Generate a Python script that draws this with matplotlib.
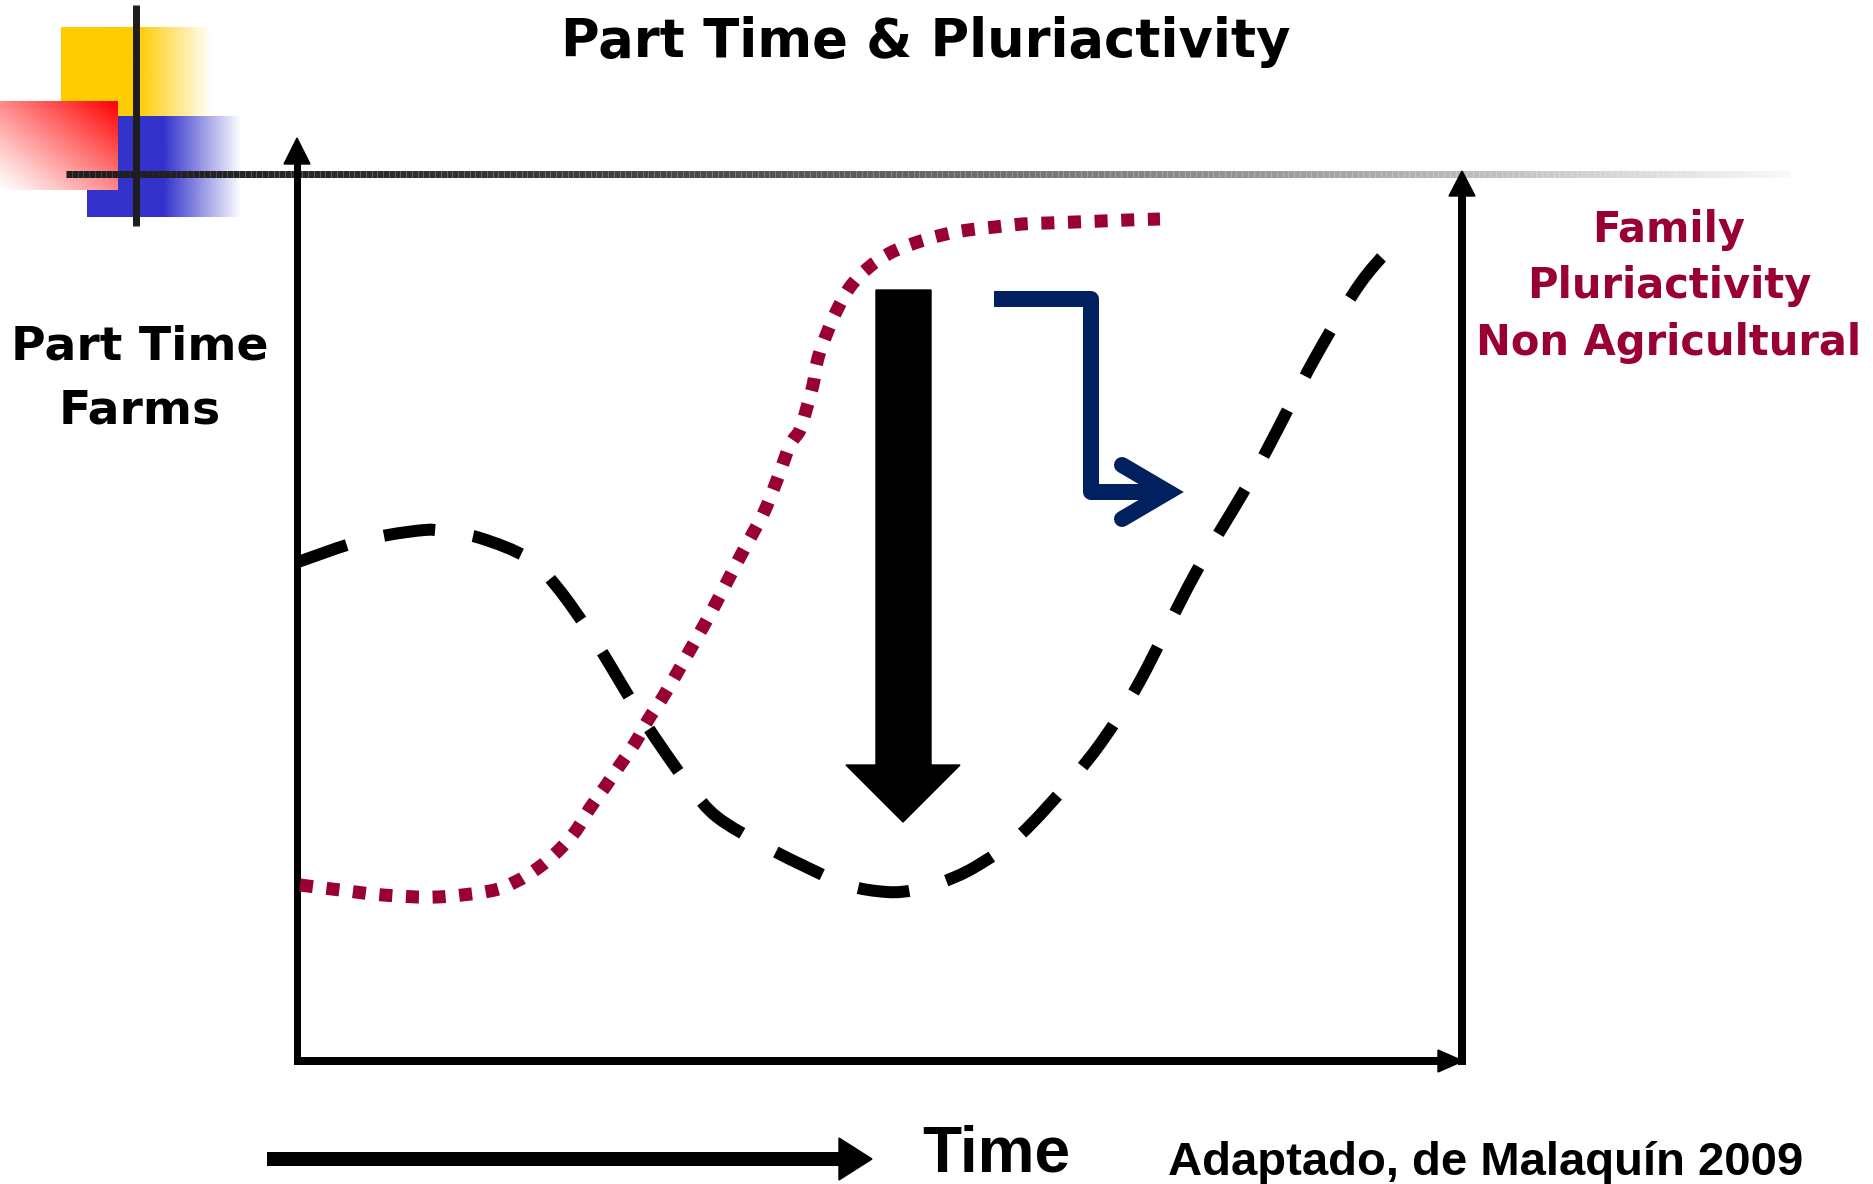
import numpy as np
import matplotlib
matplotlib.use("Agg")
import matplotlib.pyplot as plt
from matplotlib.patches import Polygon, PathPatch
from matplotlib.path import Path
from matplotlib.collections import LineCollection

# ---------------- data (pixel space of the slide, y downward) ----------------
part_time_x = [298, 350, 388, 425, 442, 480, 528, 557, 588, 610, 637, 660, 690, 717,
               763, 800, 847, 887, 915, 940, 975, 1020, 1072, 1105, 1140, 1195,
               1255, 1315, 1362, 1405]
part_time_y = [562, 544, 535, 530, 531, 538, 558, 587, 630, 665, 710, 745, 787, 817,
               845, 864, 885, 892, 890, 883, 867, 835, 779, 737, 681, 574,
               472, 358, 281, 233]

pluri_x = [300, 340, 383, 437, 490, 515, 538, 557, 575, 590, 605, 620, 635, 648, 663,
           677, 690, 703, 715, 728, 741, 753, 765, 777, 790, 800, 807, 813, 818, 827,
           837, 850, 868, 890, 915, 942, 968, 995, 1022, 1048, 1075, 1102, 1128, 1160]
pluri_y = [885, 890, 895, 897, 891, 882, 868, 852, 832, 808, 787, 765, 743, 720, 697,
           673, 650, 627, 605, 580, 555, 533, 510, 480, 445, 430, 407, 385, 358, 333,
           310, 287, 268, 253, 243, 235, 230, 227, 224, 223, 222, 221, 220, 219]

title = "Part Time & Pluriactivity"
ylabel_lines = ["Part Time", "Farms"]
right_lines = ["Family", "Pluriactivity", "Non Agricultural"]
time_label = "Time"
source = "Adaptado, de Malaquín 2009"

PURPLE = "#990033"
NAVY = "#002060"

fig = plt.figure(figsize=(18.74, 11.84), dpi=100)
ax = fig.add_axes([0, 0, 1, 1])
ax.set_xlim(0, 1874)
ax.set_ylim(1184, 0)
ax.axis("off")

PX = 0.72  # px -> pt


def smooth_path(xs, ys):
    """Catmull-Rom curve through the points, expressed as cubic Bezier path."""
    p = np.column_stack([xs, ys]).astype(float)
    verts = [p[0]]
    codes = [Path.MOVETO]
    for i in range(len(p) - 1):
        p0 = p[i - 1] if i > 0 else p[i]
        p1, p2 = p[i], p[i + 1]
        p3 = p[i + 2] if i + 2 < len(p) else p[i + 1]
        c1 = p1 + (p2 - p0) / 6.0
        c2 = p2 - (p3 - p1) / 6.0
        verts += [c1, c2, p2]
        codes += [Path.CURVE4] * 3
    return Path(verts, codes)


# ---------------- logo ----------------
def hgrad(x0, x1, y0, y1, rgb, solid_to, z):
    n = 200
    xs = np.linspace(x0, x1, n)
    alpha = np.clip(1 - (xs - solid_to) / (x1 - solid_to), 0, 1)
    alpha[xs <= solid_to] = 1
    img = np.zeros((2, n, 4))
    img[..., :3] = rgb
    img[..., 3] = alpha
    ax.imshow(img, extent=(x0, x1, y1, y0), origin="upper", aspect="auto",
              zorder=z, interpolation="bilinear")

hgrad(61, 212, 27, 116, (1.0, 0.8, 0.0), 138, 1)
hgrad(87, 242, 116, 217, (0.2, 0.2, 0.8), 164, 2)
# red diagonal gradient (opaque, red -> white)
n = 120
gx, gy = np.meshgrid(np.linspace(0, 1, n), np.linspace(0, 1, n))
a = np.clip((gx + (1 - gy)) / 2, 0, 1) ** 1.1
red = np.ones((n, n, 3))
red[..., 1] = 1 - a
red[..., 2] = 1 - a
ax.imshow(red, extent=(0, 118, 190, 101), origin="upper", aspect="auto", zorder=3,
          interpolation="bilinear")
ax.plot([136, 136], [5, 226], color="#1e1e1e", lw=7 * PX, zorder=5, solid_capstyle="butt")
# gradient horizontal line
xs = np.linspace(66, 1790, 300)
segs = [[(xs[i], 174), (xs[i + 1], 174)] for i in range(len(xs) - 1)]
t = (xs[:-1] - 66) / (1790 - 66)
cols = [(0.12 + 0.86 * tt ** 1.6,) * 3 for tt in t]
ax.add_collection(LineCollection(segs, colors=cols, linewidths=7 * PX, zorder=4))

# ---------------- axes ----------------
ax.plot([297, 297], [150, 1061], color="black", lw=7 * PX, zorder=6, solid_capstyle="butt")
ax.add_patch(Polygon([(297, 138), (284, 164), (310, 164)], closed=True, color="black", zorder=6))
ax.plot([294, 1440], [1061, 1061], color="black", lw=8 * PX, zorder=6, solid_capstyle="butt")
ax.add_patch(Polygon([(1463, 1061), (1438, 1050), (1438, 1072)], closed=True, color="black", zorder=6))
ax.plot([1462, 1462], [185, 1065], color="black", lw=8 * PX, zorder=6, solid_capstyle="butt")
ax.add_patch(Polygon([(1462, 171), (1449, 196), (1475, 196)], closed=True, color="black", zorder=6))

# ---------------- curves ----------------
ax.add_patch(PathPatch(smooth_path(part_time_x, part_time_y), fill=False, edgecolor="black",
                       lw=12 * PX, ls=(0, (4.3, 3.2)), capstyle="butt", zorder=7))
ax.add_patch(PathPatch(smooth_path(pluri_x, pluri_y), fill=False, edgecolor=PURPLE,
                       lw=13 * PX, ls=(0, (1.0, 1.05)), capstyle="butt", zorder=7))

# ---------------- big black arrow ----------------
ax.add_patch(Polygon([(876, 290), (931, 290), (931, 765), (960, 765), (903, 822),
                      (846, 765), (876, 765)], closed=True, color="black", zorder=8))

# ---------------- blue bent arrow ----------------
ax.plot([994, 1091, 1091, 1160], [299, 299, 492, 492], color=NAVY, lw=16 * PX,
        solid_joinstyle="round", solid_capstyle="butt", zorder=8)
ax.plot([1122, 1168, 1122], [465, 492, 519], color=NAVY, lw=16 * PX,
        solid_joinstyle="miter", solid_capstyle="round", zorder=8)

# ---------------- texts ----------------
ax.text(926, 42, title, ha="center", va="center", fontsize=38, fontweight="bold",
        family="DejaVu Sans", zorder=9)
ax.text(140, 347, ylabel_lines[0], ha="center", va="center", fontsize=34,
        fontweight="bold", family="DejaVu Sans")
ax.text(140, 411, ylabel_lines[1], ha="center", va="center", fontsize=34,
        fontweight="bold", family="DejaVu Sans")
for yy, s in zip([230, 286, 343], right_lines):
    ax.text(1669, yy, s, ha="center", va="center", fontsize=30, fontweight="bold",
            color=PURPLE, family="DejaVu Sans")

# bottom time arrow
ax.plot([267, 842], [1159, 1159], color="black", lw=14 * PX, solid_capstyle="butt")
ax.add_patch(Polygon([(872, 1159), (839, 1138), (839, 1180)], closed=True, color="black"))
ax.text(996, 1155, time_label, ha="center", va="center", fontsize=46, fontweight="bold",
        family="Liberation Sans")
ax.text(1486, 1163, source, ha="center", va="center", fontsize=34, fontweight="bold",
        family="Liberation Sans")

fig.savefig("out.png", dpi=100)
